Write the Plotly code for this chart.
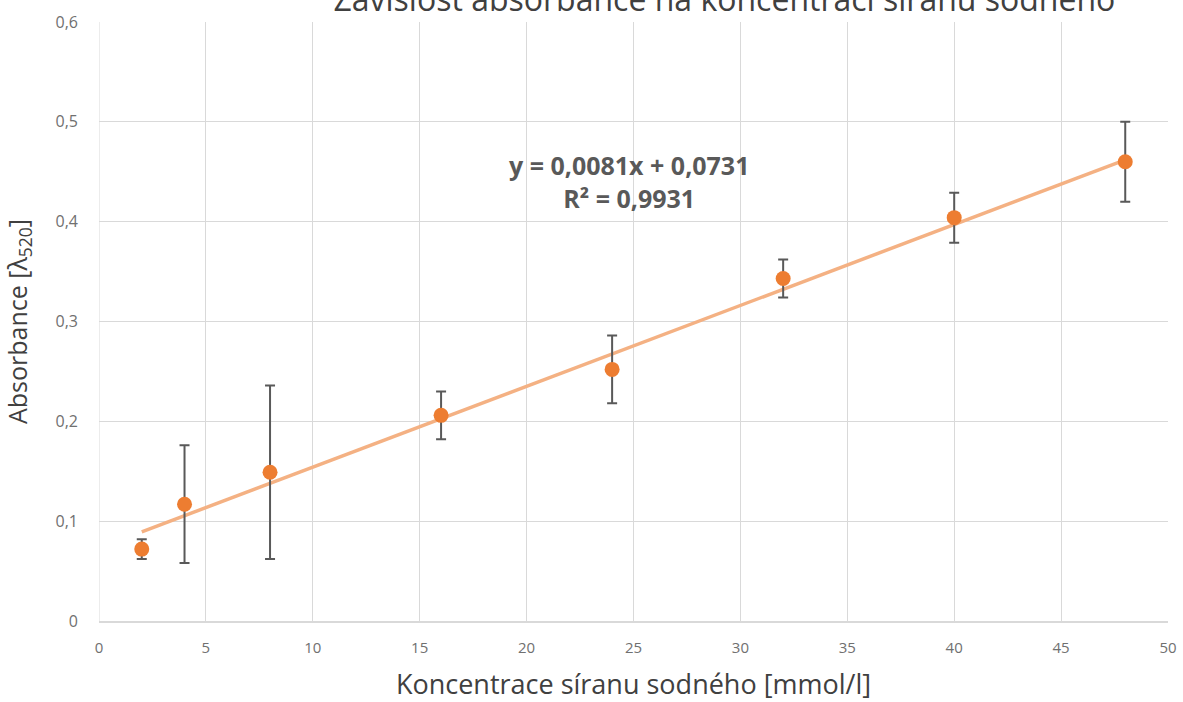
import plotly.graph_objects as go

# Data
concentration = [2, 4, 8, 16, 24, 32, 40, 48]
absorbance = [0.072, 0.117, 0.149, 0.206, 0.252, 0.343, 0.404, 0.460]
abs_error = [0.010, 0.059, 0.087, 0.024, 0.034, 0.019, 0.025, 0.040]

trend_slope = 0.0081
trend_intercept = 0.0731
trend_r2 = 0.9931

title_text = "Závislost absorbance na koncentraci síranu sodného"
x_title = "Koncentrace síranu sodného [mmol/l]"
y_title = "Absorbance [λ<sub>520</sub>]"

FONT = "Open Sans, Noto Sans, sans-serif"
GRAY = "#595959"
TICK = "#707070"
GRID = "#d9d9d9"

x_tr = [min(concentration), max(concentration)]
y_tr = [trend_slope * x + trend_intercept for x in x_tr]

fig = go.Figure()
fig.add_trace(go.Scatter(
    x=x_tr, y=y_tr, mode="lines",
    line=dict(color="#F4B183", width=3.5),
    hoverinfo="skip", showlegend=False,
))
fig.add_trace(go.Scatter(
    x=concentration, y=absorbance, mode="markers",
    marker=dict(color="#ED7D31", size=15),
    error_y=dict(type="data", array=abs_error, visible=True,
                 color=GRAY, thickness=2, width=5),
    showlegend=False,
))

eq = ("y = " + f"{trend_slope:.4f}".replace(".", ",") + "x + "
      + f"{trend_intercept:.4f}".replace(".", ",")
      + "<br>R² = " + f"{trend_r2:.4f}".replace(".", ","))
fig.add_annotation(
    x=24.8, y=0.44, xref="x", yref="y", text="<b>" + eq + "</b>",
    showarrow=False, font=dict(family=FONT, size=25, color=GRAY),
    align="center",
)

fig.update_layout(
    width=1183, height=702,
    paper_bgcolor="white", plot_bgcolor="white",
    separators=", ",
    margin=dict(l=99, r=15, t=22, b=81, autoexpand=False),
    font=dict(family=FONT, color=GRAY),
    title=dict(text=title_text, x=0.585, xanchor="center",
               y=1.0, yanchor="middle", xref="paper", yref="container",
               font=dict(family=FONT, size=32, color="#404040"),
               automargin=False),
)
fig.update_xaxes(
    range=[0, 50], dtick=5, showgrid=True, gridcolor=GRID, gridwidth=1,
    showline=True, linecolor=GRID, linewidth=1.5, zeroline=False,
    ticks="", tickfont=dict(family=FONT, size=15, color=TICK),
    ticklabelstandoff=12, automargin=False,
    title=dict(text=x_title, font=dict(family=FONT, size=27, color="#404040"),
               standoff=24),
)
fig.update_yaxes(
    range=[0, 0.6], dtick=0.1, showgrid=True, gridcolor=GRID, gridwidth=1,
    showline=False, zeroline=False,
    ticks="", tickfont=dict(family=FONT, size=16, color=TICK),
    ticklabelstandoff=20, automargin=False,
    title=dict(text=y_title, font=dict(family=FONT, size=25, color="#404040"),
               standoff=22),
)
fig.add_shape(type="line", xref="x", yref="paper", x0=0, x1=0, y0=0, y1=1,
              line=dict(color=GRID, width=1), layer="below")

fig.write_html("out.html",
               config={"displayModeBar": False},
               post_script="document.body.style.margin='0';")
